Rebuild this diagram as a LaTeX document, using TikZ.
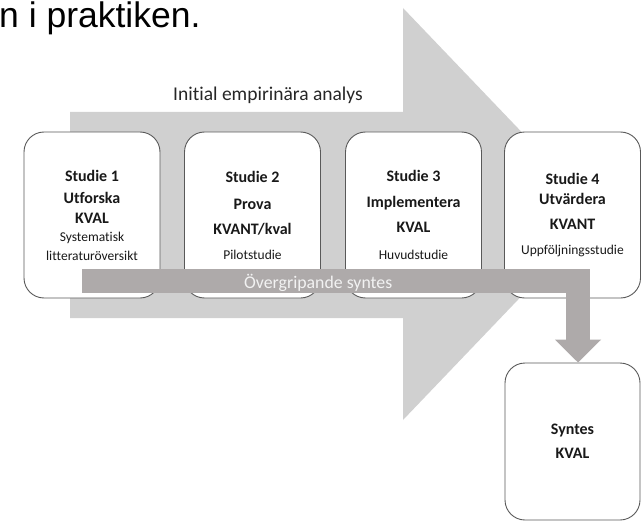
\documentclass[tikz,border=0pt]{standalone}
\usepackage{fontspec}
\setmainfont{Carlito}[Ligatures=NoCommon]
\newfontfamily\arialfont{Liberation Sans}
\usetikzlibrary{arrows.meta}

\definecolor{arrowgray}{HTML}{D0D0D0}
\definecolor{bargray}{HTML}{AEAAAA}
\definecolor{boxline}{HTML}{595959}
\newcommand{\studiesub}[1]{{\fontsize{13.5}{16}\selectfont #1}}

\begin{document}
\begin{tikzpicture}[x=1pt,y=-1pt,
 studie/.style={draw=boxline,line width=0.9pt,fill=white,rounded corners=20pt,
   minimum width=136pt,minimum height=166pt,inner sep=0pt,align=center,
   text=black!90,font=\fontsize{16}{20}\selectfont},
 synbar/.style={draw=bargray,line width=24pt,
   -{Triangle[width=45pt,length=23pt]}}]
 \useasboundingbox (0,0) rectangle (642,524);
 % big arrow in the back
 \fill[arrowgray](70,112)--(403,112)--(403,8)--(600,214)--(403,420)--(403,318)--(70,318)--cycle;
 \node[anchor=base west,inner sep=0pt,font=\arialfont\fontsize{35.5}{42}\selectfont] (title) at (-1,28) {n i praktiken.};
 \node[anchor=base west,inner sep=0pt,text=black!85,font=\fontsize{19.5}{23}\selectfont] (initial) at (173,101) {Initial empirinära analys};
 % the four studies
 \node[studie] (s1) at (92,215) {\textbf{Studie 1}\\[2pt] \textbf{Utforska}\\ \textbf{KVAL}\\[-2pt] \studiesub{Systematisk}\\[-1pt] \studiesub{litteraturöversikt}};
 \node[studie] (s2) at (252.5,215) {\textbf{Studie 2}\\[7pt] \textbf{Prova}\\[5pt] \textbf{KVANT/kval}\\[5pt] \studiesub{Pilotstudie}};
 \node[studie] (s3) at (413.5,215) {\textbf{Studie 3}\\[6pt] \textbf{Implementera}\\[5pt] \textbf{KVAL}\\[7pt] \studiesub{Huvudstudie}};
 \node[studie] (s4) at (572.5,215) {\textbf{Studie 4}\\ \textbf{Utvärdera}\\[5pt] \textbf{KVANT}\\[5pt] \studiesub{Uppföljningsstudie}};
 \node[studie,minimum width=135pt,minimum height=157pt] (syn) at (572.5,441.5) {\textbf{Syntes}\\[4pt] \textbf{KVAL}};
 % overarching synthesis
 \coordinate (synstart) at (82,281);
 \draw[synbar] (synstart) -| ([xshift=5.5pt]syn.north);
 \node[anchor=base west,inner sep=0pt,text=white!95!black,font=\fontsize{17.8}{21}\selectfont] (overgrip) at (244,288) {Övergripande syntes};
\end{tikzpicture}
\end{document}
